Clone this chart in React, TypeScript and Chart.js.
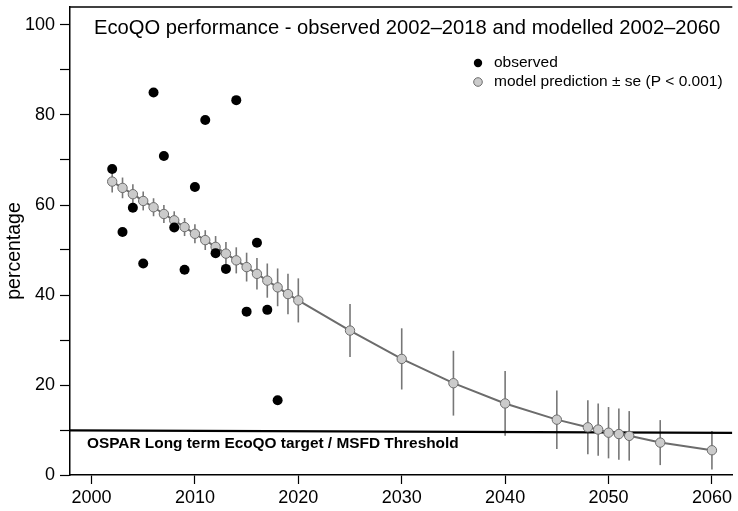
import React, { useEffect, useRef } from 'react';
import { Chart, registerables } from 'chart.js';

Chart.register(...registerables);

const obsYears = [2002, 2003, 2004, 2005, 2006, 2007, 2008, 2009, 2010, 2011, 2012, 2013, 2014, 2015, 2016, 2017, 2018];
const obsValues = [68.0, 54.0, 59.4, 47.0, 85.0, 70.9, 55.0, 45.6, 64.0, 78.9, 49.3, 45.8, 83.3, 36.3, 51.6, 36.7, 16.6];

const modelYears = [2002, 2003, 2004, 2005, 2006, 2007, 2008, 2009, 2010, 2011, 2012, 2013, 2014, 2015, 2016, 2017, 2018, 2019, 2020,
  2025, 2030, 2035, 2040, 2045, 2048, 2049, 2050, 2051, 2052, 2055, 2060];
const modelValues = [65.2, 63.8, 62.4, 60.9, 59.5, 58.0, 56.6, 55.1, 53.6, 52.2, 50.7, 49.2, 47.7, 46.2, 44.7, 43.2, 41.7, 40.2, 38.8,
  32.1, 25.8, 20.4, 15.9, 12.3, 10.6, 10.1, 9.4, 9.1, 8.7, 7.2, 5.5];
const modelSE = [2.4, 2.3, 2.2, 2.1, 2.0, 2.0, 2.0, 2.0, 2.1, 2.2, 2.4, 2.6, 2.9, 3.2, 3.5, 3.8, 4.2, 4.5, 4.9,
  5.9, 6.8, 7.2, 7.2, 6.5, 6.0, 5.8, 5.7, 5.7, 5.5, 5.0, 4.3];

const thresholdX = [1997.92, 2061.97];
const thresholdY = [9.9, 9.35];

const xTicks = [2000, 2010, 2020, 2030, 2040, 2050, 2060];
const yTicks = [0, 10, 20, 30, 40, 50, 60, 70, 80, 90, 100];
const yTickLabels = ['0', '', '20', '', '40', '', '60', '', '80', '', '100'];

const titleText = 'EcoQO performance - observed 2002\u20132018 and modelled 2002\u20132060';
const legendLabels = ['observed', 'model prediction \u00b1 se (P < 0.001)'];
const targetLabel = 'OSPAR Long term EcoQO target / MSFD Threshold';
const yAxisLabel = 'percentage';

const FONT = '"Liberation Sans", Arial, Helvetica, sans-serif';
const GREY_FILL = '#cbcbcb';
const GREY_EDGE = '#6c6c6c';

const decorPlugin = {
  id: 'decor',
  beforeDatasetsDraw(chart: any) {
    const { ctx, scales } = chart;
    const xs = scales.x;
    const ys = scales.y;
    ctx.save();
    ctx.strokeStyle = '#777777';
    ctx.lineWidth = 1.6;
    modelYears.forEach((yr, i) => {
      const px = xs.getPixelForValue(yr);
      const y1 = ys.getPixelForValue(modelValues[i] + modelSE[i]);
      const y2 = ys.getPixelForValue(modelValues[i] - modelSE[i]);
      ctx.beginPath();
      ctx.moveTo(px, y1);
      ctx.lineTo(px, y2);
      ctx.stroke();
    });
    ctx.restore();
  },
  afterDatasetsDraw(chart: any) {
    const { ctx, chartArea } = chart;
    ctx.save();
    // top frame line
    ctx.strokeStyle = '#000';
    ctx.lineWidth = 1.5;
    ctx.beginPath();
    ctx.moveTo(chartArea.left, chartArea.top);
    ctx.lineTo(chartArea.right, chartArea.top);
    ctx.stroke();

    ctx.fillStyle = '#000';
    ctx.textBaseline = 'middle';
    ctx.textAlign = 'left';
    // title
    ctx.font = `20.2px ${FONT}`;
    ctx.fillText(titleText, 94, 28);

    // legend
    const lx = 478;
    const ly1 = 63;
    const ly2 = 82;
    ctx.beginPath();
    ctx.arc(lx, ly1, 4.2, 0, Math.PI * 2);
    ctx.fillStyle = '#000';
    ctx.fill();
    ctx.beginPath();
    ctx.arc(lx, ly2, 4.3, 0, Math.PI * 2);
    ctx.fillStyle = GREY_FILL;
    ctx.fill();
    ctx.strokeStyle = GREY_EDGE;
    ctx.lineWidth = 1;
    ctx.stroke();
    ctx.fillStyle = '#000';
    ctx.font = `15.5px ${FONT}`;
    ctx.fillText(legendLabels[0], 494, ly1);
    ctx.fillText(legendLabels[1], 494, ly2);

    // target label
    ctx.font = `bold 15.4px ${FONT}`;
    ctx.fillText(targetLabel, 87, 444);

    // y-axis title
    ctx.save();
    ctx.translate(15, 251);
    ctx.rotate(-Math.PI / 2);
    ctx.textAlign = 'center';
    ctx.font = `19.5px ${FONT}`;
    ctx.fillText(yAxisLabel, 0, 0);
    ctx.restore();

    ctx.restore();
  },
};

export default function App() {
  const canvasRef = useRef<HTMLCanvasElement | null>(null);

  useEffect(() => {
    if (!canvasRef.current) return;
    Chart.defaults.font.family = FONT;
    Chart.defaults.color = '#000';
    const chart = new Chart(canvasRef.current, {
      type: 'scatter',
      data: {
        datasets: [
          {
            label: legendLabels[0],
            data: obsYears.map((x, i) => ({ x, y: obsValues[i] })),
            pointRadius: 5,
            pointBackgroundColor: '#000',
            pointBorderColor: '#000',
            pointBorderWidth: 0,
            showLine: false,
          },
          {
            label: legendLabels[1],
            data: modelYears.map((x, i) => ({ x, y: modelValues[i] })),
            showLine: true,
            borderColor: GREY_EDGE,
            borderWidth: 2,
            pointRadius: 4.7,
            pointBackgroundColor: GREY_FILL,
            pointBorderColor: GREY_EDGE,
            pointBorderWidth: 1,
          },
          {
            label: 'threshold',
            data: thresholdX.map((x, i) => ({ x, y: thresholdY[i] })),
            showLine: true,
            borderColor: '#000',
            borderWidth: 2.2,
            pointRadius: 0,
          },
        ],
      },
      options: {
        responsive: false,
        animation: false,
        devicePixelRatio: 1,
        layout: { padding: { left: 0, top: 7, right: 0, bottom: 0 } },
        plugins: {
          legend: { display: false },
          tooltip: { enabled: false },
          title: { display: false },
        },
        scales: {
          x: {
            type: 'linear',
            min: thresholdX[0],
            max: thresholdX[1],
            afterBuildTicks: (s: any) => {
              s.ticks = xTicks.map((v) => ({ value: v }));
            },
            afterFit: (s: any) => {
              s.height = 36;
              s.paddingLeft = 0;
              s.paddingRight = 0;
              s.paddingTop = 0;
              s.paddingBottom = 0;
            },
            ticks: {
              autoSkip: false,
              maxRotation: 0,
              padding: 3,
              color: '#000',
              font: { size: 18, family: FONT },
              callback: (v: any) => String(v),
            },
            grid: {
              drawOnChartArea: false,
              drawTicks: true,
              tickLength: 9,
              tickWidth: 1.2,
              tickColor: '#000',
            },
            border: { display: true, color: '#000', width: 1.5 },
          },
          y: {
            type: 'linear',
            min: 0,
            max: 104,
            afterBuildTicks: (s: any) => {
              s.ticks = yTicks.map((v) => ({ value: v }));
            },
            afterFit: (s: any) => {
              s.width = 70;
              s.paddingTop = 0;
              s.paddingBottom = 0;
              s.paddingLeft = 0;
              s.paddingRight = 0;
            },
            ticks: {
              autoSkip: false,
              padding: 5,
              color: '#000',
              font: { size: 18, family: FONT },
              callback: (_v: any, i: number) => yTickLabels[i],
            },
            grid: {
              drawOnChartArea: false,
              drawTicks: true,
              tickLength: 10,
              tickWidth: 1.2,
              tickColor: '#000',
            },
            border: { display: true, color: '#000', width: 1.5 },
          },
        },
      },
      plugins: [decorPlugin],
    });
    return () => chart.destroy();
  }, []);

  return (
    <div style={{ position: 'absolute', left: 0, top: 0, width: 738, height: 511, background: '#fff' }}>
      <canvas ref={canvasRef} width={738} height={511} style={{ display: 'block' }} />
    </div>
  );
}
